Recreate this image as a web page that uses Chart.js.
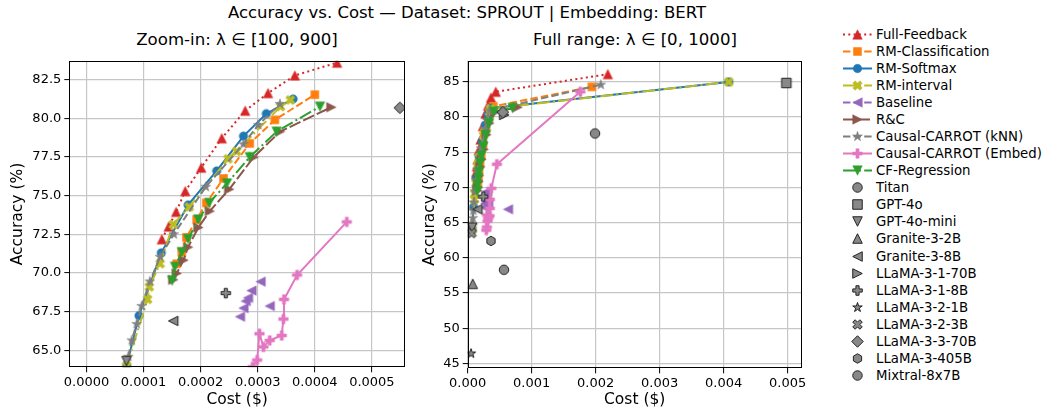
<!DOCTYPE html>
<html><head><meta charset="utf-8">
<script src="https://cdn.jsdelivr.net/npm/chart.js@4.4.1/dist/chart.umd.min.js"></script>
<style>
body{margin:0;width:1047px;height:414px;background:#fff;position:relative;overflow:hidden;font-family:"DejaVu Sans";}
.t{position:absolute;white-space:nowrap;color:#000;text-align:center;}
canvas{position:absolute;}
.row{position:absolute;left:842px;height:17px;white-space:nowrap;font-size:13.3px;color:#000;}
.row canvas{position:absolute;left:0;top:0;}
.row span{position:absolute;left:34px;top:0;line-height:17px;}
</style></head><body>
<div class="t" style="left:0;width:934px;top:3px;font-size:16.5px;">Accuracy vs. Cost — Dataset: SPROUT | Embedding: BERT</div>
<div class="t" style="left:37px;width:400px;top:30px;font-size:16.6px;">Zoom-in: λ ∈ [100, 900]</div>
<div class="t" style="left:435px;width:400px;top:30px;font-size:16.6px;">Full range: λ ∈ [0, 1000]</div>
<canvas id="cL" width="420" height="364" style="left:0;top:50px;"></canvas>
<canvas id="cR" width="400" height="364" style="left:410px;top:50px;"></canvas>
<div id="legend"></div>
<script>
// ---------------- DATA ----------------
const seriesNames = ["Full-Feedback","RM-Classification","RM-Softmax","RM-interval","Baseline","R&C","Causal-CARROT (kNN)","Causal-CARROT (Embed)","CF-Regression"];

// lambda in [100, 900]
const ffCost  = [0.000132,0.000144,0.000157,0.000173,0.000201,0.000237,0.000278,0.000318,0.000365,0.000439];
const ffAcc   = [72.18,73.0,73.95,75.29,76.81,78.71,80.49,81.63,82.77,83.6];
const rmcCost = [0.000158,0.000167,0.000175,0.000193,0.00021,0.00024,0.000286,0.00033,0.0004];
const rmcAcc  = [70.6,71.35,72.3,73.46,74.53,76.11,78.38,79.9,81.53];
const rmsCost = [0.0000704,0.000092,0.000131,0.000178,0.000228,0.000275,0.000315,0.000362];
const rmsAcc  = [64.0,67.24,71.3,74.4,76.6,78.85,80.3,81.25];
const rmiCost = [0.0000704,0.000107,0.00011,0.000129,0.000152,0.00018,0.000248,0.000263,0.00034,0.000357];
const rmiAcc  = [64.0,68.3,69.1,70.6,73.15,74.27,77.38,77.87,80.76,81.19];
const baseCost= [0.000269,0.000275,0.000279,0.000283,0.000289,0.000305,0.000321];
const baseAcc = [67.17,67.73,68.18,68.39,68.86,69.44,67.86];
const rcCost  = [0.000152,0.000158,0.00017,0.000178,0.000196,0.000216,0.00025,0.000293,0.000339,0.000429];
const rcAcc   = [69.56,69.97,70.83,71.67,72.94,74.0,75.41,77.49,79.14,80.72];
const knnCost = [0.0000732,0.0000792,0.0000879,0.0000967,0.000111,0.000129,0.000153,0.000209,0.000275,0.000301,0.000339];
const knnAcc  = [64.58,65.64,66.7,67.86,69.45,71.04,72.5,75.57,78.33,79.57,80.93];
const embCost = [0.000291,0.000299,0.000303,0.00031,0.000321,0.000342,0.000345,0.000346,0.000369,0.000456];
const embAcc  = [63.93,64.37,66.07,65.22,65.64,65.96,67.02,68.29,69.87,73.3];
const cfCost  = [0.00015,0.000155,0.000167,0.000178,0.000196,0.000215,0.000246,0.000286,0.000333,0.000409];
const cfAcc   = [69.5,70.4,71.35,72.2,73.46,74.53,75.79,77.49,79.14,80.76];

// extra point at lambda = 0 (full range only), per series in order above
const endCost = [0.00219,0.00194,0.00408,0.00408,0.00063,0.00078,0.00208,0.00176,0.0007];
const endAcc  = [86.1,84.3,85.0,85.0,66.9,81.4,84.6,83.6,81.3];

// individual models
const modelNames = ["Titan","GPT-4o","GPT-4o-mini","Granite-3-2B","Granite-3-8B","LLaMA-3-1-70B","LLaMA-3-1-8B","LLaMA-3-2-1B","LLaMA-3-2-3B","LLaMA-3-3-70B","LLaMA-3-405B","Mixtral-8x7B"];
const modelCost  = [0.00199,0.00498,0.00007,0.000078,0.000152,0.00057,0.000244,0.000052,0.00006,0.000549,0.000364,0.000567];
const modelAcc   = [77.67,84.85,64.3,56.3,66.9,80.3,68.7,46.4,63.5,80.68,62.4,58.3];

// axis ticks
const xTicksZoom = [0,0.0001,0.0002,0.0003,0.0004,0.0005];
const yTicksZoom = [65,67.5,70,72.5,75,77.5,80,82.5];
const xTicksFull = [0,0.001,0.002,0.003,0.004,0.005];
const yTicksFull = [45,50,55,60,65,70,75,80,85];

// ---------------- STYLE ----------------
const seriesCost = [ffCost,rmcCost,rmsCost,rmiCost,baseCost,rcCost,knnCost,embCost,cfCost];
const seriesAcc  = [ffAcc,rmcAcc,rmsAcc,rmiAcc,baseAcc,rcAcc,knnAcc,embAcc,cfAcc];
const seriesStyle = [
  {color:'#d62728', dash:[2,3.3],  marker:'tri-up', size:9.5},
  {color:'#ff7f0e', dash:[7.4,3.2], marker:'square', size:8},
  {color:'#1f77b4', dash:[],       marker:'circle', size:8.5},
  {color:'#bcbd22', dash:[12.8,3.2,2,3.2], marker:'x', size:9.5},
  {color:'#9467bd', dash:[7.4,3.2], marker:'tri-left', size:9.5, noLine:true},
  {color:'#8c564b', dash:[12,3],   marker:'tri-right', size:9.5},
  {color:'#7f7f7f', dash:[7.4,3.2], marker:'star', size:10.5},
  {color:'#e377c2', dash:[],       marker:'plus', size:9.5},
  {color:'#2ca02c', dash:[12.8,3.2,2,3.2], marker:'tri-down', size:9.5},
];
const modelMarker = ['circle','square','tri-down','tri-up','tri-left','tri-right','plus','star','x','diamond','hexagon','circle'];
const modelSize   = [9.5,9.5,9.5,9.5,9.5,9.5,9.5,10,9.5,11.5,9.5,9.5];

function shapePath(g, shape, r){
  const poly = pts => { pts.forEach((p,i)=> i?g.lineTo(p[0],p[1]):g.moveTo(p[0],p[1])); };
  switch(shape){
    case 'circle': g.arc(0,0,r,0,Math.PI*2); break;
    case 'square': g.rect(-r,-r,2*r,2*r); break;
    case 'tri-up': poly([[0,-r],[r,r],[-r,r]]); break;
    case 'tri-down': poly([[0,r],[r,-r],[-r,-r]]); break;
    case 'tri-left': poly([[-r,0],[r,-r],[r,r]]); break;
    case 'tri-right': poly([[r,0],[-r,-r],[-r,r]]); break;
    case 'diamond': poly([[0,-r],[r,0],[0,r],[-r,0]]); break;
    case 'star': { const p=[]; for(let i=0;i<10;i++){const a=-Math.PI/2+i*Math.PI/5; const rr=i%2?r*0.382:r; p.push([rr*Math.cos(a),rr*Math.sin(a)]);} poly(p); break; }
    case 'plus': { const s=r/3; poly([[-1,-3],[-1,-1],[-3,-1],[-3,1],[-1,1],[-1,3],[1,3],[1,1],[3,1],[3,-1],[1,-1],[1,-3]].map(q=>[q[0]*s,q[1]*s])); break; }
    case 'x': { const s=r/2; poly([[-1,-2],[0,-1],[1,-2],[2,-1],[1,0],[2,1],[1,2],[0,1],[-1,2],[-2,1],[-1,0],[-2,-1]].map(q=>[q[0]*s,q[1]*s])); break; }
    case 'hexagon': { const p=[]; for(let i=0;i<6;i++){const a=-Math.PI/2+i*Math.PI/3; p.push([r*Math.cos(a),r*Math.sin(a)]);} poly(p); break; }
  }
  g.closePath();
}
function drawMarker(g, shape, size, fill, edge, lw){
  g.beginPath(); shapePath(g, shape, size/2);
  g.fillStyle=fill; g.fill();
  if(lw>0){ g.lineWidth=lw; g.strokeStyle=edge; g.lineJoin='miter'; g.stroke(); }
}
function markerCanvas(shape, size, fill, edge, lw){
  const dim = Math.ceil(size + 2*lw + 4);
  const c=document.createElement('canvas'); c.width=dim; c.height=dim;
  const g=c.getContext('2d'); g.translate(dim/2, dim/2);
  drawMarker(g, shape, size, fill, edge, lw);
  return c;
}

function buildDatasets(full){
  const ds=[];
  const N=seriesNames.length;
  for(let i=0;i<N;i++){
    const st=seriesStyle[i];
    const xs=seriesCost[i].slice(), ys=seriesAcc[i].slice();
    if(full){ xs.push(endCost[i]); ys.push(endAcc[i]); }
    ds.push({
      label:seriesNames[i],
      data:xs.map((x,k)=>({x:x,y:ys[k]})),
      showLine:!st.noLine, borderColor:st.color, borderWidth:2, borderDash:st.dash,
      backgroundColor:st.color, tension:0,
      pointStyle:markerCanvas(st.marker, st.size, st.color, st.color, 0.5),
      pointRadius:4, pointHoverRadius:4,
      order: 100 - i
    });
  }
  for(let j=0;j<modelNames.length;j++){
    ds.push({
      label:modelNames[j], data:[{x:modelCost[j], y:modelAcc[j]}], showLine:false,
      pointStyle:markerCanvas(modelMarker[j], modelSize[j], '#888888', '#222', 1),
      pointRadius:4, order: 50 - j
    });
  }
  return ds;
}

const framePlugin={id:'frame',afterDraw(chart){
  const {ctx,chartArea:a}=chart; ctx.save(); ctx.strokeStyle='#000'; ctx.lineWidth=1;
  ctx.strokeRect(Math.round(a.left)+0.5, Math.round(a.top)+0.5, Math.round(a.right)-Math.round(a.left)-1, Math.round(a.bottom)-Math.round(a.top)-1);
  ctx.restore();
}};

function makeChart(id, cfg){
  const font = {family:'DejaVu Sans', size:13};
  new Chart(document.getElementById(id), {
    type:'scatter',
    data:{datasets:buildDatasets(cfg.full)},
    options:{
      responsive:false, animation:false, devicePixelRatio:1, events:[],
      layout:{padding:{left:0, top:5, right:cfg.padRight, bottom:0}},
      plugins:{legend:{display:false}, tooltip:{enabled:false}, title:{display:false}},
      scales:{
        x:{type:'linear', min:cfg.xmin, max:cfg.xmax,
          afterBuildTicks:s=>{ s.ticks=cfg.xticks.map(v=>({value:v})); },
          afterFit:s=>{ s.height=cfg.xAxisH; },
          ticks:{callback:v=>Number(v).toFixed(cfg.xdec), color:'#000', font:font, padding:3, maxRotation:0, autoSkip:false},
          grid:{color:'#c6c6c6', lineWidth:1.2, tickColor:'#000', tickLength:5, tickWidth:1},
          border:{display:false},
          title:{display:true, text:'Cost ($)', color:'#000', font:{family:'DejaVu Sans', size:15.5}, padding:{top:0,bottom:4.5}}
        },
        y:{type:'linear', min:cfg.ymin, max:cfg.ymax,
          afterBuildTicks:s=>{ s.ticks=cfg.yticks.map(v=>({value:v})); },
          afterFit:s=>{ s.width=cfg.yAxisW; },
          ticks:{callback:v=>Number(v).toFixed(cfg.ydec), color:'#000', font:font, padding:3, autoSkip:false},
          grid:{color:'#c6c6c6', lineWidth:1.2, tickColor:'#000', tickLength:5, tickWidth:1},
          border:{display:false},
          title:{display:true, text:'Accuracy (%)', color:'#000', font:{family:'DejaVu Sans', size:15.5}, padding:{top:cfg.yTitlePad,bottom:0}}
        }
      }
    },
    plugins:[framePlugin]
  });
}

makeChart('cL', {full:false, xmin:-0.0000301, xmax:0.000558, ymin:63.9, ymax:83.72,
  xticks:xTicksZoom, yticks:yTicksZoom, xdec:4, ydec:1, yAxisW:69.3, xAxisH:46.7, padRight:15, yTitlePad:8.7});
makeChart('cR', {full:true, xmin:0, xmax:0.00522, ymin:44.3, ymax:88.0,
  xticks:xTicksFull, yticks:yTicksFull, xdec:3, ydec:0, yAxisW:57.7, xAxisH:45.7, padRight:8.3, yTitlePad:10.7});

// ---------------- LEGEND ----------------
const leg=document.getElementById('legend');
function addRow(i, label, drawFn){
  const row=document.createElement('div'); row.className='row'; row.style.top=(34+17.08*i-8.5)+'px';
  const c=document.createElement('canvas'); c.width=32; c.height=17; row.appendChild(c);
  const g=c.getContext('2d'); drawFn(g);
  const sp=document.createElement('span'); sp.textContent=label; row.appendChild(sp);
  leg.appendChild(row);
}
seriesNames.forEach((n,i)=>{
  const st=seriesStyle[i];
  addRow(i, n, g=>{
    g.strokeStyle=st.color; g.lineWidth=2; g.setLineDash(st.dash);
    g.beginPath(); g.moveTo(1,8.5); g.lineTo(30,8.5); g.stroke(); g.setLineDash([]);
    g.save(); g.translate(15.5,8.5); drawMarker(g, st.marker, st.size, st.color, st.color, 0.5); g.restore();
  });
});
modelNames.forEach((n,j)=>{
  addRow(seriesNames.length+j, n, g=>{
    g.save(); g.translate(15.5,8.5); drawMarker(g, modelMarker[j], modelSize[j], '#888888', '#222', 1); g.restore();
  });
});
</script>
</body></html>
